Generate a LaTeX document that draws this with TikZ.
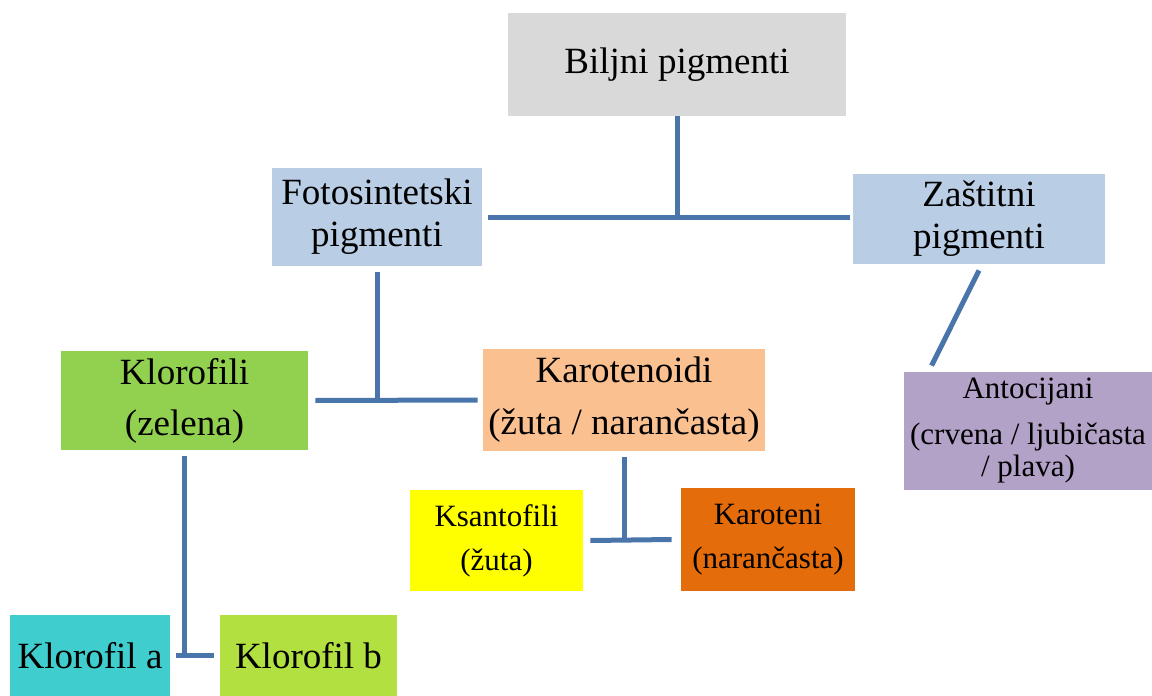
\documentclass[tikz,border=0pt]{standalone}
\usepackage{fontspec}
\setmainfont{Liberation Serif}
\usetikzlibrary{positioning}

\definecolor{linkblue}{RGB}{74,117,170}
\definecolor{greybox}{RGB}{217,217,217}
\definecolor{bluebox}{RGB}{185,205,229}
\definecolor{greenbox}{RGB}{146,208,80}
\definecolor{peachbox}{RGB}{250,192,144}
\definecolor{lilacbox}{RGB}{179,162,199}
\definecolor{yellowbox}{RGB}{255,255,0}
\definecolor{orangebox}{RGB}{228,108,10}
\definecolor{cyanbox}{RGB}{64,205,205}
\definecolor{limebox}{RGB}{178,224,64}

\newcommand{\bigtext}{\fontsize{18.5}{21}\selectfont}
\newcommand{\smalltext}{\fontsize{15.5}{22}\selectfont}

\begin{document}
\begin{tikzpicture}[x=0.5pt, y=-0.5pt,
		box/.style={inner sep=0pt, align=center, font=\bigtext},
		link/.style={draw=linkblue, line width=2.5pt}]
		\useasboundingbox (0,0) rectangle (1152,696);
		\node[box, fill=greybox, minimum width=169pt, minimum height=51.5pt] (bilj) at (677, 64.5) {Biljni pigmenti};
		\node[box, fill=bluebox, minimum width=105pt, minimum height=49pt] (foto) at (377, 217) {Fotosintetski\\pigmenti};
		\node[box, fill=bluebox, minimum width=126pt, minimum height=45pt] (zast) at (979, 219) {Zaštitni\\pigmenti};
		\node[box, fill=greenbox, minimum width=123.5pt, minimum height=49.5pt, font=\fontsize{18.5}{25.5}\selectfont] (klor) at (184.5, 400.5) {Klorofili\\(zelena)};
		\node[box, fill=peachbox, minimum width=141pt, minimum height=51pt, font=\fontsize{18.5}{26}\selectfont] (karo) at (624, 400) {Karotenoidi\\(žuta / narančasta)};
		\node[box, fill=lilacbox, minimum width=124pt, minimum height=59pt, font=\fontsize{15.5}{16}\selectfont] (anto) at (1028, 431) {Antocijani\\[7pt](crvena / ljubičasta\\/ plava)};
		\node[box, fill=yellowbox, minimum width=86.5pt, minimum height=50.5pt, font=\smalltext] (ksan) at (496.5, 540.5) {Ksantofili\\(žuta)};
		\node[box, fill=orangebox, minimum width=87pt, minimum height=51.5pt, font=\smalltext] (karoteni) at (768, 539.5) {Karoteni\\(narančasta)};
		\node[box, fill=cyanbox, minimum width=80pt, minimum height=40.5pt] (kla) at (90, 655.5) {Klorofil a};
		\node[box, fill=limebox, minimum width=88.5pt, minimum height=40.5pt] (klb) at (308.5, 655.5) {Klorofil b};

		\draw[link] (bilj.south) -- (bilj.south |- foto.east);
		\draw[link] ([xshift=3pt]foto.east) -- ([xshift=-1.5pt]zast.west |- foto.east);
		\draw[link] ([yshift=-3pt]foto.south) -- (foto.south |- klor.east);
		\draw[link] ([xshift=3.5pt]klor.east) -- ([xshift=-2.5pt]karo.west);
		\draw[link] ([yshift=-3pt]zast.south) -- ([xshift=14pt,yshift=3pt]anto.north west);
		\draw[link] ([yshift=-3pt]karo.south) -- (karo.south |- ksan.east);
		\draw[link] ([xshift=3.5pt]ksan.east) -- ([xshift=-4.5pt]karoteni.west);
		\draw[link] ([yshift=-3pt]klor.south) -- (klor.south |- kla.east);
		\draw[link] ([xshift=3pt]kla.east) -- ([xshift=-3pt]klb.west);
	\end{tikzpicture}
\end{document}
